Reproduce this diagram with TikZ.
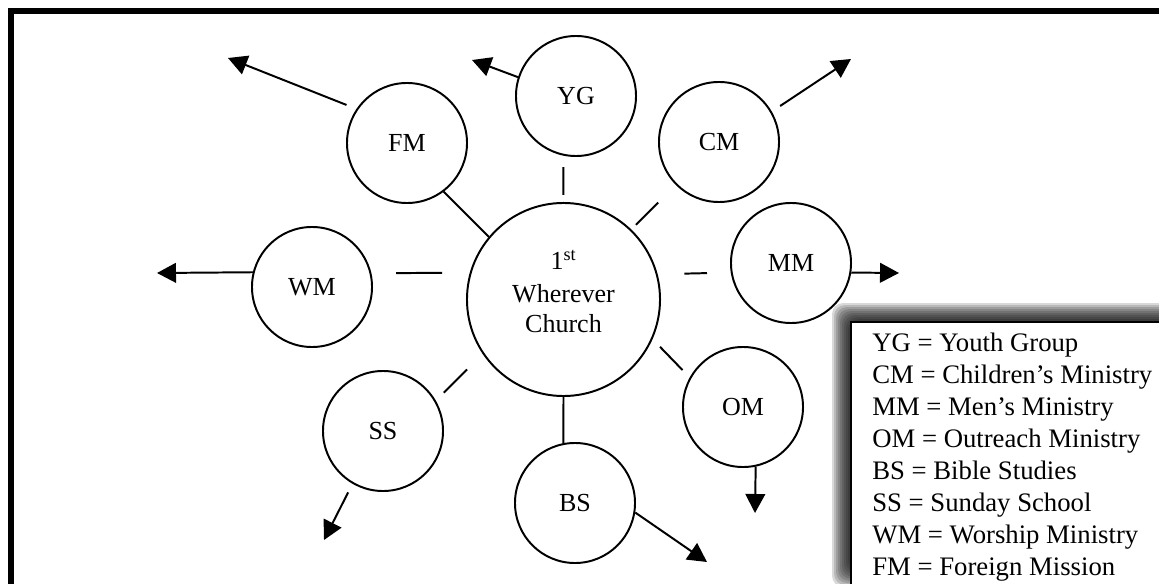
\documentclass[tikz,border=0pt]{standalone}
\usepackage{fontspec}
\setmainfont{Liberation Serif}
\usepackage{tikz}
\usetikzlibrary{arrows.meta,calc}

\begin{document}
\begin{tikzpicture}[x=0.025cm,y=-0.025cm,
	ministry/.style={draw,circle,line width=1.4pt,minimum size=3cm,inner sep=0pt,font=\fontsize{18.5}{21}\selectfont},
	hub/.style={draw,circle,line width=1.4pt,minimum size=4.825cm,inner sep=0pt},
	stub/.style={line width=1.4pt},
	spoke/.style={line width=1.4pt,-{Triangle[length=13.5pt,width=14pt]}},
	legendline/.style={anchor=base west,inner sep=0pt,font=\fontsize{19}{22.7}\selectfont}]
		\useasboundingbox (0,0) rectangle (1159,584);
		\clip (0,0) rectangle (1159,584);
		\draw[line width=4.3pt] (11,700) -- (11,11) -- (1300,11);
		\node[hub] (church) at (563.5,299.5) {};
		\node[align=center,inner sep=0pt,font=\fontsize{18.5}{21.5}\selectfont] (churchname) at (563.5,291.5) {1\textsuperscript{st}\\[2pt]Wherever\\Church};
		\node[ministry] (yg) at (576,96) {YG};
		\node[ministry] (cm) at (719,142) {CM};
		\node[ministry] (mm) at (791,263) {MM};
		\node[ministry] (om) at (743,407) {OM};
		\node[ministry] (bs) at (575,503) {BS};
		\node[ministry] (ss) at (383,431) {SS};
		\node[ministry] (wm) at (312,287) {WM};
		\node[ministry] (fm) at (407,143) {FM};
		\draw[stub] (church.140) -- (fm.-53);
		\draw[stub,shorten <=5pt,shorten >=8.1pt] (church.90) -- (yg.-102.5);
		\draw[stub,shorten <=4.7pt,shorten >=17.7pt] (church.46) -- (cm.-135);
		\draw[stub,shorten <=19pt,shorten >=16.9pt] (church.15.9) -- (mm.189.6);
		\draw[stub,shorten <=7.6pt,shorten >=7.3pt] (church.-24.4) -- (om.151.4);
		\draw[stub] (church.-90) -- (bs.101.5);
		\draw[stub,shorten <=15.6pt,shorten >=8pt] (church.-146) -- (ss.30);
		\draw[stub,shorten <=19.7pt,shorten >=17.6pt] (church.164.1) -- (wm.13.5);
		\coordinate (fmtip) at (228,58);
		\coordinate (ygtip) at (472,60);
		\coordinate (cmtip) at (851,59);
		\coordinate (mmtip) at (899,273);
		\coordinate (omtip) at (755,513);
		\coordinate (bstip) at (707,562);
		\coordinate (sstip) at (324,540);
		\coordinate (wmtip) at (157,273);
		\draw[spoke,shorten <=7.6pt] (fm.146.6) -- (fmtip);
		\draw[spoke] (yg.162.5) -- (ygtip);
		\draw[spoke,shorten <=7.1pt] (cm.30.6) -- (cmtip);
		\draw[spoke] (mm.-9.6) -- (mmtip);
		\draw[spoke] (om.-78.5) -- (omtip);
		\draw[spoke] (bs.-9.3) -- (bstip);
		\draw[spoke,shorten <=6.8pt] (ss.-120.9) -- (sstip);
		\draw[spoke] (wm.166.5) -- (wmtip);
		\foreach \i in {0,...,9}
			\fill[black,opacity=0.15,rounded corners=8pt] (850-2*\i,321-2*\i) rectangle (1181+2*\i,569+2*\i);
		\draw[line width=1.4pt,fill=white] (851,322) rectangle (1200,620);
		\foreach \abbr/\full [count=\i from 0] in {YG/Youth Group,CM/Children’s Ministry,MM/Men’s Ministry,OM/Outreach Ministry,BS/Bible Studies,SS/Sunday School,WM/Worship Ministry,FM/Foreign Mission}
			\node[legendline] (key\abbr) at (872,351+32*\i) {\abbr{} = \full};
	\end{tikzpicture}
\end{document}
